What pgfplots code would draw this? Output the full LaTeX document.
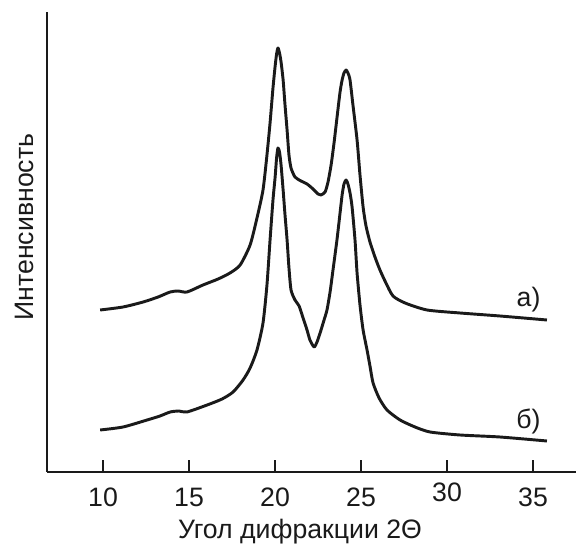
\documentclass[border=0pt]{standalone}
\usepackage{fontspec}
\setmainfont{Liberation Sans}
\usepackage{pgfplots}
\pgfplotsset{compat=1.18}
\definecolor{ink}{HTML}{1A1A1A}
\newcommand{\lblfont}{\fontsize{20}{24}\selectfont}
\begin{document}
\begin{tikzpicture}[x=1pt,y=1pt]
\useasboundingbox (-35.25,-56.25) rectangle (396.75,354);
\begin{axis}[at={(0,0)}, anchor=south west, scale only axis,
  width=396.75pt, height=345pt,
  xmin=6.74, xmax=37.5, ymin=0, ymax=460,
  axis x line*=bottom, axis y line*=left,
  axis line style={line width=2pt, ink, -},
  xtick={10,15,20,25,35}, extra x ticks={30},
  extra x tick style={tick label style={yshift=3.75pt}},
  xtick pos=left, ytick=\empty,
  tick align=inside, major tick length=9pt,
  tick style={line width=1.9pt, ink},
  /pgf/number format/assume math mode=true,
  xticklabel style={font=\lblfont, anchor=center, yshift=-18.75pt, text=ink},
  clip=false,
]
\addplot[ink, line width=2.2pt, smooth, tension=0.4, line join=round] coordinates {
(9.83,162)(11.16,165)(12.33,170)(13.20,175)(13.90,180)(14.36,181)(14.88,180)(15.81,187)
(16.69,193)(17.38,199)(17.97,207)(18.55,227)(18.95,254)(19.30,282)(19.53,317)(19.71,349)
(19.88,384)(20.00,405)(20.09,418)(20.17,424)(20.26,419)(20.35,410)(20.47,392)(20.58,367)
(20.70,342)(20.81,317)(20.93,304)(21.16,295)(21.51,291)(21.86,288)(22.21,283)(22.50,278)
(22.67,277)(22.91,280)(23.08,290)(23.26,307)(23.43,329)(23.60,354)(23.78,380)(23.90,392)
(24.01,399)(24.13,402)(24.24,399)(24.36,392)(24.53,367)(24.77,332)(24.94,297)(25.12,265)
(25.29,246)(25.52,230)(25.81,215)(26.10,202)(26.45,189)(26.86,176)(27.56,169)(28.84,162)
(30.76,159)(33.08,156)(35.81,152)
};
\addplot[ink, line width=2.2pt, smooth, tension=0.4, line join=round] coordinates {
(9.83,42)(11.16,45)(12.56,52)(13.31,56)(13.90,60)(14.42,61)(14.88,60)(16.05,67)
(16.92,73)(17.56,80)(18.14,92)(18.55,104)(18.95,122)(19.30,149)(19.53,187)(19.71,232)
(19.88,272)(20.00,294)(20.09,314)(20.17,324)(20.26,320)(20.35,307)(20.47,282)(20.58,257)
(20.70,232)(20.81,204)(20.93,182)(21.16,172)(21.40,166)(21.63,154)(21.86,142)(22.03,132)
(22.27,125)(22.44,130)(22.62,139)(22.85,152)(23.02,162)(23.20,180)(23.37,202)(23.60,232)
(23.78,259)(23.90,277)(24.01,288)(24.13,292)(24.24,288)(24.36,279)(24.48,265)(24.65,232)
(24.77,199)(24.94,167)(25.12,142)(25.35,122)(25.52,106)(25.70,89)(26.05,74)(26.51,62)
(27.27,52)(28.14,45)(29.01,40)(30.76,37)(33.08,35)(35.81,31)
};
\node[font=\lblfont, text=ink] at (axis cs:34.74,172) {а)};
\node[font=\lblfont, text=ink] at (axis cs:34.74,51) {б)};
\end{axis}
\node[font=\lblfont, text=ink] at (189.75,-44.5) {Угол дифракции 2Θ};
\node[font=\lblfont, text=ink, rotate=90] at (-17.25,183.75) {Интенсивность};
\end{tikzpicture}
\end{document}
